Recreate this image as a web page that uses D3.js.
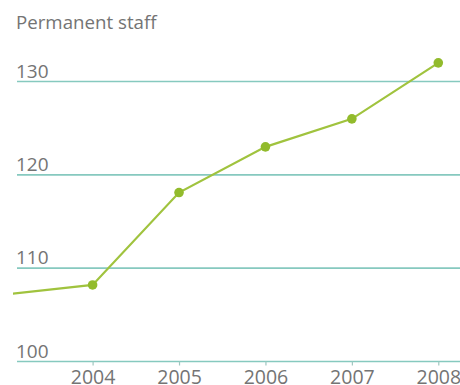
<!DOCTYPE html>
<html>
<head>
<meta charset="utf-8">
<script src="https://cdn.jsdelivr.net/npm/d3@7/dist/d3.min.js"></script>
<style>
  html, body { margin: 0; padding: 0; background: #fff; }
  svg { display: block; }
  text { font-family: "Open Sans", "DejaVu Sans", sans-serif; fill: #747474; }
</style>
</head>
<body>
<svg id="chart" width="460" height="385"></svg>
<script>
// Permanent staff by year
const years = [2003, 2004, 2005, 2006, 2007, 2008];
const staff = [107.2, 108.2, 118.1, 123, 126, 132];
const tickYears = [2004, 2005, 2006, 2007, 2008];
const gridValues = [100, 110, 120, 130];
const title = "Permanent staff";

const W = 460, H = 385;
const svg = d3.select("#chart");

const x = d3.scaleLinear().domain([2004, 2008]).range([92.6, 438.3]);
const y = d3.scaleLinear().domain([100, 130]).range([361.5, 81.5]);

const gridColor = "#86c9bf";
const lineColor = "#a0c33e";
const dotColor = "#92bb2c";

// title
svg.append("text")
  .attr("x", 16).attr("y", 29)
  .style("font-size", "18.7px")
  .text(title);

// horizontal gridlines with value labels
const grid = svg.append("g");
grid.selectAll("line").data(gridValues).join("line")
  .attr("x1", 17).attr("x2", W)
  .attr("y1", d => y(d)).attr("y2", d => y(d))
  .attr("stroke", gridColor).attr("stroke-width", 1.6);
grid.selectAll("text").data(gridValues).join("text")
  .attr("x", 16).attr("y", d => y(d) - 4)
  .style("font-size", "19px")
  .text(d => d);

// x axis: small ticks below the baseline and year labels
const xAxis = d3.axisBottom(x)
  .tickValues(tickYears)
  .tickFormat(d3.format("d"))
  .tickSize(4)
  .tickPadding(6);
const gx = svg.append("g")
  .attr("transform", `translate(0,${y(100)})`)
  .call(xAxis);
gx.select(".domain").remove();
gx.selectAll(".tick line").attr("stroke", "#9fc7c0").attr("stroke-width", 1.2);
gx.selectAll(".tick text")
  .attr("dy", null).attr("y", 22)
  .style("font-size", "19.5px")
  .style("font-family", '"Open Sans", "DejaVu Sans", sans-serif')
  .attr("fill", "#747474");

// clip the series at the left edge of the plot
svg.append("clipPath").attr("id", "plotClip")
  .append("rect").attr("x", 13).attr("y", 0).attr("width", W - 13).attr("height", H);

const series = years.map((yr, i) => ({ year: yr, value: staff[i] }));

const plot = svg.append("g").attr("clip-path", "url(#plotClip)");
plot.append("path")
  .datum(series)
  .attr("fill", "none")
  .attr("stroke", lineColor)
  .attr("stroke-width", 2.2)
  .attr("d", d3.line().x(d => x(d.year)).y(d => y(d.value)));

plot.selectAll("circle").data(series.filter(d => d.year >= 2004)).join("circle")
  .attr("cx", d => x(d.year)).attr("cy", d => y(d.value))
  .attr("r", 4.8)
  .attr("fill", dotColor);
</script>
</body>
</html>
